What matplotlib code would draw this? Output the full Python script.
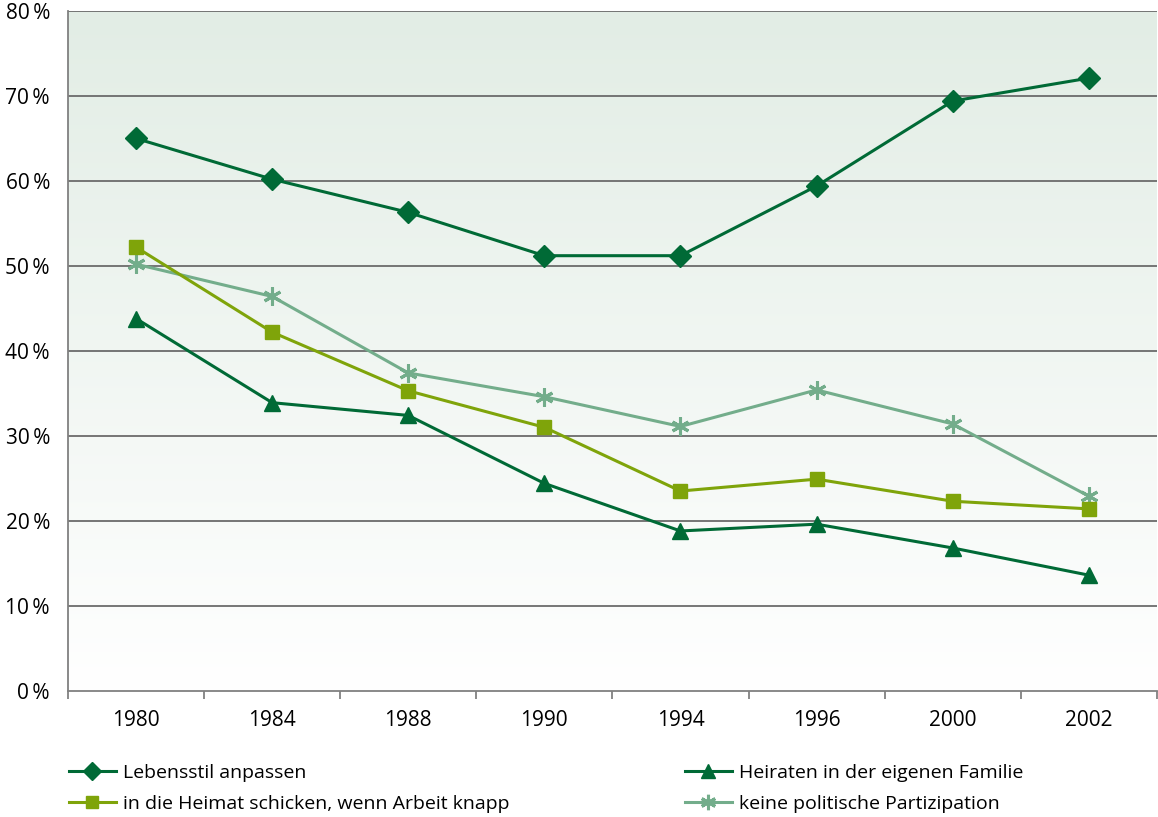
import matplotlib
matplotlib.use("Agg")
import matplotlib.pyplot as plt
import numpy as np
from matplotlib.colors import LinearSegmentedColormap

years = ["1980", "1984", "1988", "1990", "1994", "1996", "2000", "2002"]
lebensstil = [65.0, 60.2, 56.3, 51.2, 51.2, 59.4, 69.4, 72.1]
heimat = [52.2, 42.2, 35.3, 31.0, 23.5, 24.9, 22.3, 21.4]
heiraten = [43.8, 33.9, 32.4, 24.4, 18.8, 19.6, 16.8, 13.6]
politik = [50.2, 46.4, 37.4, 34.6, 31.1, 35.4, 31.4, 22.9]
yticks = [0, 10, 20, 30, 40, 50, 60, 70, 80]
ytick_labels = [f"{v}\u2009%" for v in yticks]

labels = ["Lebensstil anpassen", "in die Heimat schicken, wenn Arbeit knapp",
          "Heiraten in der eigenen Familie", "keine politische Partizipation"]

DARK = "#006a36"
OLIVE = "#7fa40a"
SAGE = "#73ad8b"

plt.rcParams["font.family"] = ["Open Sans", "DejaVu Sans"]
FS = 14
TFS = 15

fig = plt.figure(figsize=(11.58, 8.17), dpi=100)
bottom_px, top_px = 690.7, 11.0
ax = fig.add_axes([68/1158, 1 - bottom_px/817, 1 - 68/1158 - 0.001, (bottom_px - top_px)/817])

x = np.arange(len(years))
ax.set_xlim(-0.5, len(years) - 0.5)
ax.set_ylim(0, 80)

# gradient background
cmap = LinearSegmentedColormap.from_list("bg", ["#ffffff", "#e2ede5"])
grad = np.linspace(0, 1, 256).reshape(-1, 1)
ax.imshow(grad, aspect="auto", cmap=cmap, origin="lower",
          extent=(-0.5, len(years) - 0.5, 0, 80), zorder=0)

for v in yticks[1:]:
    ax.axhline(v, color="#6b6b6b", lw=1.3, zorder=1)

lw = 2.2
h1, = ax.plot(x, lebensstil, color=DARK, lw=lw, marker="D", ms=11, zorder=5)
h2, = ax.plot(x, heimat, color=OLIVE, lw=lw, marker="s", ms=10, zorder=4)
h3, = ax.plot(x, heiraten, color=DARK, lw=lw, marker="^", ms=12, zorder=4)
h4, = ax.plot(x, politik, color=SAGE, lw=lw, marker=(6, 2, 0), ms=13, mew=2.2, zorder=3)

ax.set_yticks(yticks)
ax.set_yticklabels(ytick_labels, fontsize=TFS)
ax.tick_params(axis="y", length=0, pad=13)

ax.set_xticks(x)
ax.set_xticklabels(years, fontsize=TFS)
ax.set_xticks(np.arange(-0.5, len(years)), minor=True)
ax.tick_params(axis="x", which="major", length=0, pad=14)
ax.tick_params(axis="x", which="minor", length=6, width=1.2, color="#777777", direction="out")

for s in ["top", "right"]:
    ax.spines[s].set_visible(False)
for s in ["left", "bottom"]:
    ax.spines[s].set_color("#808080")
    ax.spines[s].set_linewidth(1.3)

leg_kw = dict(frameon=False, fontsize=FS, handlelength=2.4, handletextpad=0.4,
              labelspacing=0.65, borderaxespad=0, borderpad=0, markerscale=0.85)
leg1 = fig.legend([h1, h2], labels[:2], loc="upper left",
                  bbox_to_anchor=(69/1158, 1 - 764/817), **leg_kw)
leg2 = fig.legend([h3, h4], labels[2:], loc="upper left",
                  bbox_to_anchor=(685/1158, 1 - 764/817), **leg_kw)

fig.savefig("out.png", dpi=100)
